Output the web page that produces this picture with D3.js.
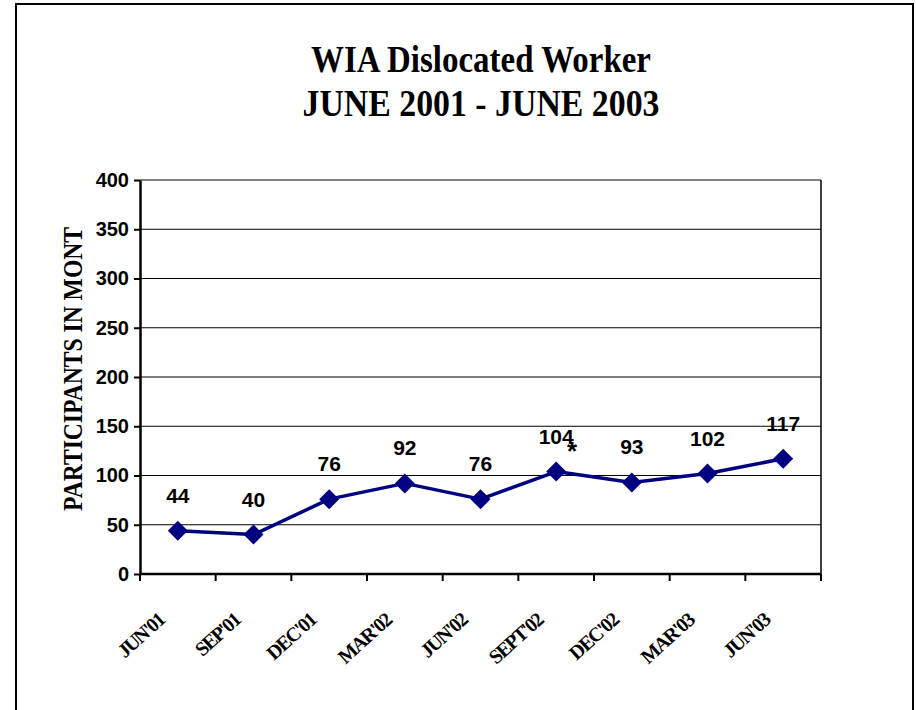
<!DOCTYPE html>
<html>
<head>
<meta charset="utf-8">
<script src="https://cdn.jsdelivr.net/npm/d3@7"></script>
<style>
  body { margin: 0; background: #fff; }
  svg { display: block; }
</style>
</head>
<body>
<div id="chart"></div>
<script>
// chart data
const quarters = ["JUN'01", "SEP'01", "DEC'01", "MAR'02", "JUN'02", "SEPT'02", "DEC'02", "MAR'03", "JUN'03"];
const participants = [44, 40, 76, 92, 76, 104, 93, 102, 117];
const yTicks = [0, 50, 100, 150, 200, 250, 300, 350, 400];
const titleLines = ["WIA Dislocated Worker", "JUNE 2001 - JUNE 2003"];

const W = 916, H = 710;
const margin = { top: 180, right: 95, bottom: 136, left: 140 };
const width = W - margin.left - margin.right;
const height = H - margin.top - margin.bottom;

const svg = d3.select("#chart")
  .append("svg")
  .attr("width", W)
  .attr("height", H);

// outer frame (bottom edge runs off the page)
svg.append("path")
  .attr("d", `M16,${H + 5}V4H913V${H + 5}`)
  .attr("fill", "none")
  .attr("stroke", "#000")
  .attr("stroke-width", 2);

// title
svg.selectAll(".title")
  .data(titleLines)
  .join("text")
  .attr("class", "title")
  .attr("x", 481)
  .attr("y", (d, i) => 72 + i * 44)
  .attr("text-anchor", "middle")
  .attr("font-family", "'Liberation Serif', 'Times New Roman', serif")
  .attr("font-weight", "bold")
  .attr("font-size", 38)
  .attr("textLength", (d, i) => i == 0 ? 340 : 357)
  .attr("lengthAdjust", "spacingAndGlyphs")
  .text(d => d);

const g = svg.append("g")
  .attr("transform", `translate(${margin.left}, ${margin.top})`);

const x = d3.scaleBand()
  .domain(quarters)
  .range([0, width]);

const y = d3.scaleLinear()
  .domain([0, 400])
  .range([height, 0]);

// gridlines
g.append("g")
  .selectAll("line")
  .data(yTicks.slice(1))
  .join("line")
  .attr("x1", 0)
  .attr("x2", width)
  .attr("y1", d => y(d))
  .attr("y2", d => y(d))
  .attr("stroke", "#000")
  .attr("stroke-width", 1);

// right border of plot area
g.append("line")
  .attr("x1", width).attr("x2", width)
  .attr("y1", 0).attr("y2", height)
  .attr("stroke", "#000")
  .attr("stroke-width", 1.5);

// Y axis
const yAxis = g.append("g")
  .call(d3.axisLeft(y).tickValues(yTicks).tickSize(6).tickPadding(5).tickSizeOuter(0));
yAxis.select(".domain").attr("stroke-width", 2.5);
yAxis.selectAll(".tick line").attr("stroke-width", 2);
yAxis.selectAll("text")
  .attr("font-family", "'Liberation Sans', Arial, sans-serif")
  .attr("font-weight", "bold")
  .attr("font-size", 20)
  .attr("fill", "#000");

// X axis, ticks on band edges
const xAxis = g.append("g")
  .attr("transform", `translate(0, ${height})`);
xAxis.append("line")
  .attr("x1", 0).attr("x2", width)
  .attr("stroke", "#000")
  .attr("stroke-width", 2.5);
xAxis.selectAll(".edge")
  .data(d3.range(quarters.length + 1))
  .join("line")
  .attr("class", "edge")
  .attr("x1", i => i * x.step())
  .attr("x2", i => i * x.step())
  .attr("y1", 0)
  .attr("y2", 7)
  .attr("stroke", "#000")
  .attr("stroke-width", 2);
xAxis.selectAll(".xlab")
  .data(quarters)
  .join("text")
  .attr("class", "xlab")
  .attr("transform", d => `translate(${x(d) + x.bandwidth() / 2 - 12}, 48) rotate(-42)`)
  .attr("text-anchor", "end")
  .attr("font-family", "'Liberation Serif', 'Times New Roman', serif")
  .attr("font-weight", "bold")
  .attr("font-size", 20)
  .attr("letter-spacing", -1.6)
  .text(d => d);

// Y axis title
svg.append("text")
  .attr("transform", "translate(82, 369) rotate(-90)")
  .attr("text-anchor", "middle")
  .attr("font-family", "'Liberation Serif', 'Times New Roman', serif")
  .attr("font-weight", "bold")
  .attr("font-size", 28)
  .attr("textLength", 284)
  .attr("lengthAdjust", "spacingAndGlyphs")
  .text("PARTICIPANTS IN MONT");

// line
const line = d3.line()
  .x((d, i) => x(quarters[i]) + x.bandwidth() / 2)
  .y(d => y(d));

g.append("path")
  .datum(participants)
  .attr("d", line)
  .attr("fill", "none")
  .attr("stroke", "#000080")
  .attr("stroke-width", 3.5)
  .attr("stroke-linejoin", "round");

// diamond markers
g.selectAll(".marker")
  .data(participants)
  .join("path")
  .attr("class", "marker")
  .attr("d", "M0,-10L10,0L0,10L-10,0Z")
  .attr("transform", (d, i) => `translate(${x(quarters[i]) + x.bandwidth() / 2}, ${y(d)})`)
  .attr("fill", "#000080");

// value labels
g.selectAll(".vlab")
  .data(participants)
  .join("text")
  .attr("class", "vlab")
  .attr("x", (d, i) => x(quarters[i]) + x.bandwidth() / 2)
  .attr("y", d => y(d) - 28)
  .attr("text-anchor", "middle")
  .attr("font-family", "'Liberation Sans', Arial, sans-serif")
  .attr("font-weight", "bold")
  .attr("font-size", 21)
  .attr("fill", "#000")
  .text(d => d);

// footnote asterisk next to SEPT'02
const sept = quarters.indexOf("SEPT'02");
g.append("text")
  .attr("x", x(quarters[sept]) + x.bandwidth() / 2 + 16)
  .attr("y", y(participants[sept]) - 12)
  .attr("text-anchor", "middle")
  .attr("font-family", "'Liberation Sans', Arial, sans-serif")
  .attr("font-weight", "bold")
  .attr("font-size", 26)
  .text("*");
</script>
</body>
</html>
